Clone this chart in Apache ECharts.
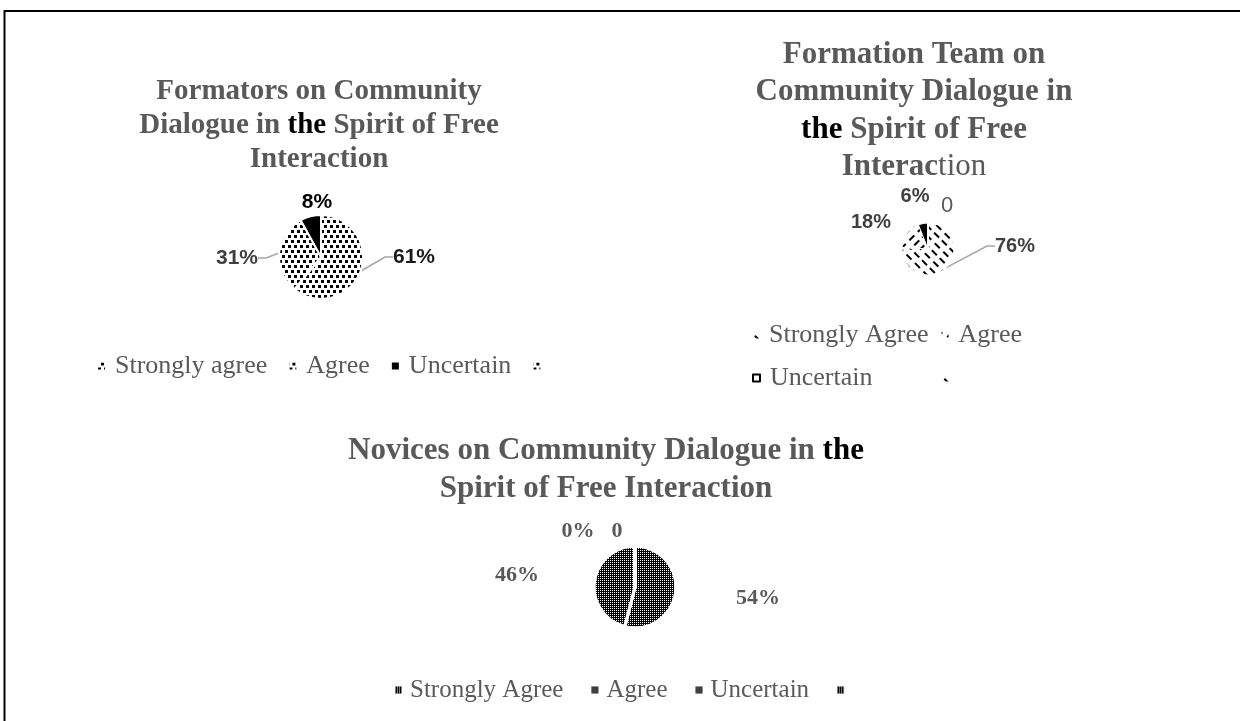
<!DOCTYPE html>
<html><head><meta charset="utf-8">
<script src="https://cdn.jsdelivr.net/npm/echarts@6/dist/echarts.min.js"></script>
<style>html,body{margin:0;padding:0;background:#fff}#c{width:1240px;height:721px}</style>
</head><body><div id="c"></div>
<script>
// ---- data ----
const formatorsCategories = ['Strongly agree', 'Agree', 'Uncertain', ''];
const formatorsValues = [61, 31, 8, 0];
const teamCategories = ['Strongly Agree', 'Agree', 'Uncertain', ''];
const teamValues = [76, 18, 6, 0];
const novicesCategories = ['Strongly Agree', 'Agree', 'Uncertain', ''];
const novicesValues = [54, 46, 0, 0];

// ---- styles ----
const SERIF = "'Liberation Serif','Times New Roman',serif";
const SANS = "'Liberation Sans',Arial,sans-serif";
const GRAY = '#595959';

const dotsA = { symbol: 'rect', symbolSize: 1, color: '#000', dashArrayX: [[3, 3], [0, 3, 3, 0]], dashArrayY: [3, 1.5] };
const dotsB = { symbol: 'rect', symbolSize: 1, color: '#000', dashArrayX: [[3, 2.5], [0, 2.75, 3, 0]], dashArrayY: [3, 2] };
const hatchA = { symbol: 'rect', symbolSize: 1, color: '#000', dashArrayX: [[7, 4], [0, 5, 7, 0]], dashArrayY: [1.5, 5], rotation: Math.PI / 4 };
const hatchB = { symbol: 'rect', symbolSize: 1, color: '#000', dashArrayX: [[7, 4], [0, 5, 7, 0]], dashArrayY: [1.5, 5], rotation: -Math.PI / 4 };
const fineDots = { symbol: 'rect', symbolSize: 1, color: '#fff', dashArrayX: [1, 1], dashArrayY: [1, 1] };

const styles1 = [
  { color: '#fff', decal: dotsA }, { color: '#fff', decal: dotsB },
  { color: '#000' }, { color: '#fff', decal: dotsA }
];
const styles2 = [
  { color: '#fff', decal: hatchA }, { color: '#fff', decal: hatchB },
  { color: '#000' }, { color: '#fff', decal: hatchA }
];
const styles3 = [
  { color: '#000', decal: fineDots }, { color: '#000', decal: fineDots },
  { color: '#000', decal: fineDots }, { color: '#000', decal: fineDots }
];

// label placement (centre of each label text)
const labelPos = [
  [[414, 257], [237, 258], [317, 202], null],
  [[1015, 246], [871, 222], [915, 196], [947, 206]],
  [[758, 598], [517, 575], [578, 531], [617, 531]]
];
const labelLineOn = [[true, true, false, false], [true, false, false, false], [false, false, false, false]];
const labelExtra = [
  [{ color: '#1a1a1a' }, { color: '#404040' }, { color: '#000' }, { show: false }],
  [{}, {}, {}, { fontWeight: 'normal', color: GRAY, fontSize: 22 }],
  [{}, {}, {}, {}]
];

function strip(name) { return name.split('#')[0]; }
function buildData(k, cats, vals, styles) {
  return cats.map((c, i) => ({
    name: c + '#' + k,
    value: vals[i],
    itemStyle: styles[i],
    label: labelExtra[k][i],
    labelLine: { show: labelLineOn[k][i] }
  }));
}
function fmt(p) {
  const n = strip(p.name);
  return n === '' ? String(p.value) : p.value + '%';
}
function layoutFor(k) {
  return function (p) {
    const pos = labelPos[k][p.dataIndex];
    if (!pos) return {};
    return { x: pos[0], y: pos[1], align: 'center', verticalAlign: 'middle' };
  };
}

const data1 = buildData(0, formatorsCategories, formatorsValues, styles1);
const data2 = buildData(1, teamCategories, teamValues, styles2);
const data3 = buildData(2, novicesCategories, novicesValues, styles3);

const baseLegend = {
  icon: 'rect', itemWidth: 7, itemHeight: 7, selectedMode: false, padding: 0,
  itemStyle: { borderWidth: 0 },
  formatter: strip,
  textStyle: { fontFamily: SERIF, fontSize: 26, color: GRAY, lineHeight: 28, padding: [0, 0, 0, 5] }
};

const titleStyle = (size, lh) => ({
  fontFamily: SERIF, fontSize: size, fontWeight: 'bold', color: GRAY, lineHeight: lh,
  rich: {
    k: { fontFamily: SERIF, fontSize: size, fontWeight: 'bold', color: '#000', lineHeight: lh },
    n: { fontFamily: SERIF, fontSize: size, fontWeight: 'normal', color: GRAY, lineHeight: lh }
  }
});

const pieBase = {
  type: 'pie', startAngle: 90, clockwise: true, avoidLabelOverlap: false,
  emphasis: { disabled: true }, silent: true
};

const option = {
  animation: false,
  backgroundColor: '#fff',
  graphic: [{
    type: 'rect', z: -10, silent: true,
    shape: { x: 4.5, y: 11, width: 1300, height: 800 },
    style: { fill: null, stroke: '#000', lineWidth: 2 }
  }],
  title: [
    { text: 'Formators on Community\nDialogue in {k|the} Spirit of Free\nInteraction', left: 319, top: 75, textAlign: 'center', padding: 0, textStyle: titleStyle(29, 34) },
    { text: 'Formation Team on\nCommunity Dialogue in\n{k|the} Spirit of Free\nInterac{n|tion}', left: 914, top: 36, textAlign: 'center', padding: 0, textStyle: titleStyle(31, 37.5) },
    { text: 'Novices on Community Dialogue in {k|the}\nSpirit of Free Interaction', left: 606, top: 432, textAlign: 'center', padding: 0, textStyle: titleStyle(31, 38) }
  ],
  legend: [
    Object.assign({}, baseLegend, { data: data1.map(d => d.name), left: 98, top: 352, itemGap: 22 }),
    Object.assign({}, baseLegend, { data: data2.slice(0, 2).map(d => d.name), left: 752, top: 321, itemGap: 13 }),
    Object.assign({}, baseLegend, { data: [{ name: data2[2].name, itemStyle: { color: '#fff', borderColor: '#000', borderWidth: 2 } }, data2[3].name], left: 752, top: 364, itemGap: 69 }),
    Object.assign({}, baseLegend, { data: data3.map(d => d.name), left: 395, top: 676, itemGap: 28,
      textStyle: Object.assign({}, baseLegend.textStyle, { fontSize: 25, padding: [0, 0, 0, 3] }) })
  ],
  series: [
    Object.assign({}, pieBase, {
      center: [321, 257], radius: 42,
      itemStyle: { borderColor: '#fff', borderWidth: 2 },
      label: { show: true, position: 'outside', formatter: fmt, fontFamily: SANS, fontWeight: 'bold', fontSize: 21, color: '#262626' },
      labelLine: { length: 12, length2: 8, lineStyle: { color: '#a6a6a6', width: 1.5 } },
      labelLayout: layoutFor(0),
      data: data1
    }),
    Object.assign({}, pieBase, {
      center: [928, 249], radius: 26,
      itemStyle: { borderColor: '#fff', borderWidth: 1 },
      label: { show: true, position: 'outside', formatter: fmt, fontFamily: SANS, fontWeight: 'bold', fontSize: 20, color: '#404040' },
      labelLine: { length: 12, length2: 8, lineStyle: { color: '#a6a6a6', width: 1.5 } },
      labelLayout: layoutFor(1),
      data: data2
    }),
    Object.assign({}, pieBase, {
      center: [635, 587], radius: 41,
      itemStyle: { borderColor: '#fff', borderWidth: 3 },
      label: { show: true, position: 'outside', formatter: fmt, fontFamily: SERIF, fontWeight: 'bold', fontSize: 22, color: GRAY },
      labelLine: { length: 12, length2: 8, lineStyle: { color: '#a6a6a6', width: 1.5 } },
      labelLayout: layoutFor(2),
      data: data3
    })
  ]
};

const chart = echarts.init(document.getElementById('c'), null, { renderer: 'canvas' });
chart.setOption(option);
</script>
</body></html>
